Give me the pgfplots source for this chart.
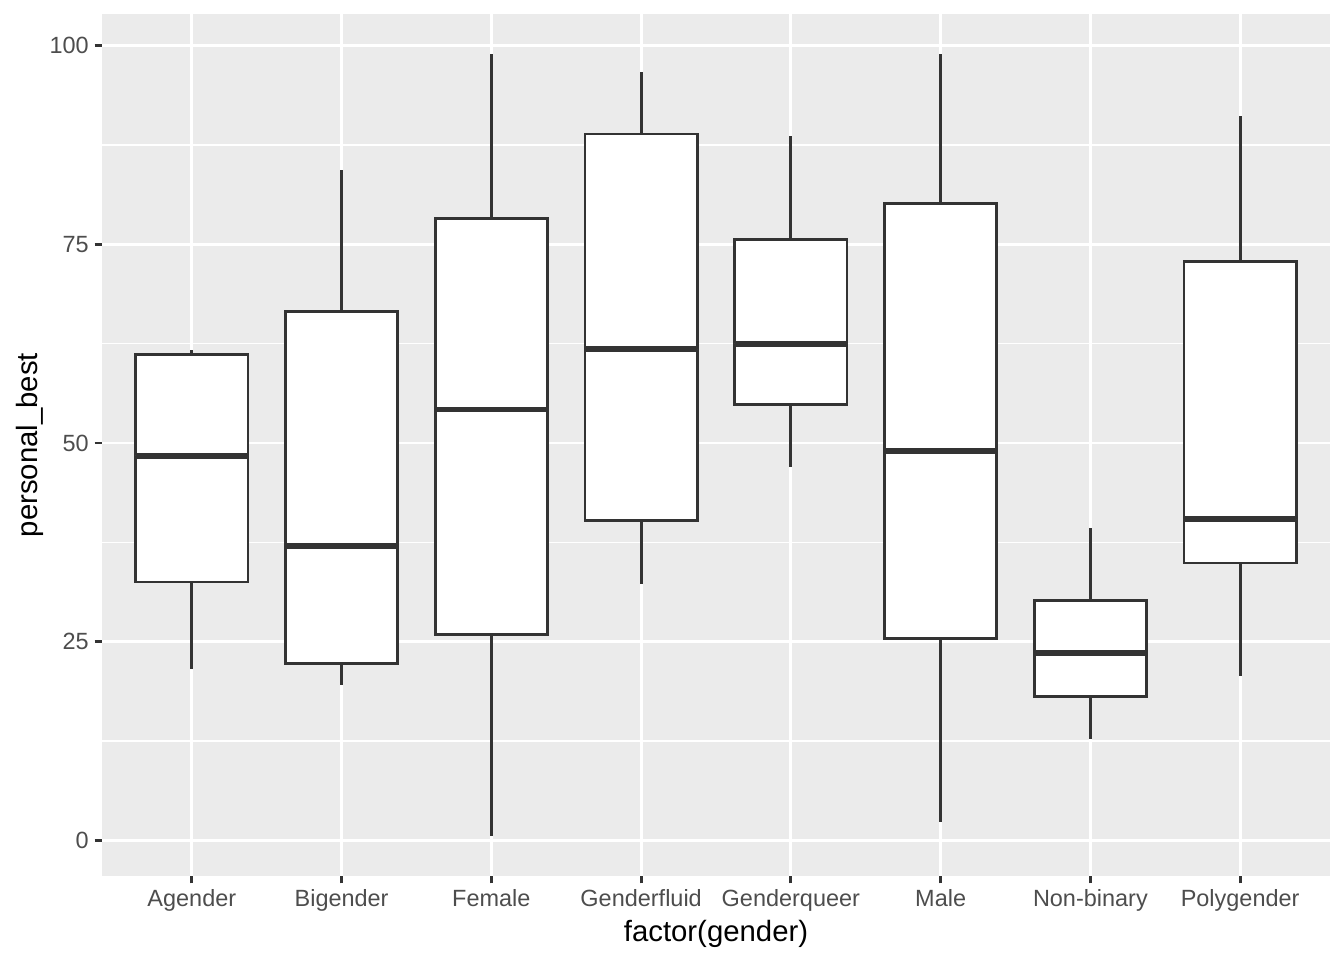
\documentclass[border=0pt]{standalone}
\usepackage{fontspec}
\setmainfont{Liberation Sans}
\usepackage{pgfplots}
\pgfplotsset{compat=1.18}
\usepgfplotslibrary{statistics}
\definecolor{panelbg}{HTML}{EBEBEB}
\definecolor{boxline}{HTML}{333333}
\definecolor{ticktext}{HTML}{4D4D4D}
\begin{document}
\begin{tikzpicture}
\useasboundingbox (0,0) rectangle (504pt,360pt);
\begin{axis}[
    at={(38.25pt,31.5pt)}, anchor=south west,
    scale only axis,
    width=460.5pt, height=323.25pt,
    xmin=0.4, xmax=8.6,
    ymin=-4.5, ymax=104,
    xtick={1,...,8},
    xticklabels={Agender,Bigender,Female,Genderfluid,Genderqueer,Male,Non-binary,Polygender},
    ytick={0,25,50,75,100},
    minor ytick={12.5,37.5,62.5,87.5},
    axis background/.style={fill=panelbg},
    axis line style={draw=none},
    xmajorgrids, ymajorgrids, yminorgrids,
    major grid style={white, line width=1.07pt},
    minor grid style={white, line width=0.53pt},
    tick pos=left,
    tick align=outside,
    major tick length=2.75pt,
    minor tick length=0pt,
    tick style={draw=boxline, line width=1.07pt},
    /pgf/number format/assume math mode=true,
    ticklabel style={font=\fontsize{8.8pt}{10pt}\selectfont, text=ticktext, inner sep=0pt},
    xticklabel style={anchor=north, yshift=-2pt},
    yticklabel style={anchor=east, xshift=-2pt},
    xlabel={factor(gender)},
    ylabel={personal\_best},
    label style={font=\fontsize{11pt}{13pt}\selectfont, inner sep=0pt},
    xlabel style={at={(axis description cs:0.5,-0.051)}, anchor=north},
    ylabel style={at={(axis description cs:-0.0472,0.5)}, anchor=south},
    boxplot/draw direction=y,
    boxplot/box extend=0.75,
    boxplot/whisker extend=0,
    boxplot/every median/.style={line width=2.13pt},
    every axis plot/.append style={draw=boxline, fill=white, line width=1.07pt, mark=none},
]
% Agender
\addplot[boxplot prepared={draw position=1, lower whisker=21.5, lower quartile=32.5, median=48.4, upper quartile=61.1, upper whisker=61.7}] coordinates {};
% Bigender
\addplot[boxplot prepared={draw position=2, lower whisker=19.6, lower quartile=22.2, median=37.0, upper quartile=66.6, upper whisker=84.4}] coordinates {};
% Female
\addplot[boxplot prepared={draw position=3, lower whisker=0.5, lower quartile=25.9, median=54.2, upper quartile=78.3, upper whisker=99.0}] coordinates {};
% Genderfluid
\addplot[boxplot prepared={draw position=4, lower whisker=32.2, lower quartile=40.3, median=61.8, upper quartile=88.9, upper whisker=96.7}] coordinates {};
% Genderqueer
\addplot[boxplot prepared={draw position=5, lower whisker=47.0, lower quartile=54.8, median=62.5, upper quartile=75.6, upper whisker=88.7}] coordinates {};
% Male
\addplot[boxplot prepared={draw position=6, lower whisker=2.3, lower quartile=25.4, median=49.0, upper quartile=80.2, upper whisker=99.0}] coordinates {};
% Non-binary
\addplot[boxplot prepared={draw position=7, lower whisker=12.7, lower quartile=18.1, median=23.6, upper quartile=30.2, upper whisker=39.3}] coordinates {};
% Polygender
\addplot[boxplot prepared={draw position=8, lower whisker=20.7, lower quartile=34.9, median=40.4, upper quartile=72.9, upper whisker=91.2}] coordinates {};
\end{axis}
\end{tikzpicture}
\end{document}
